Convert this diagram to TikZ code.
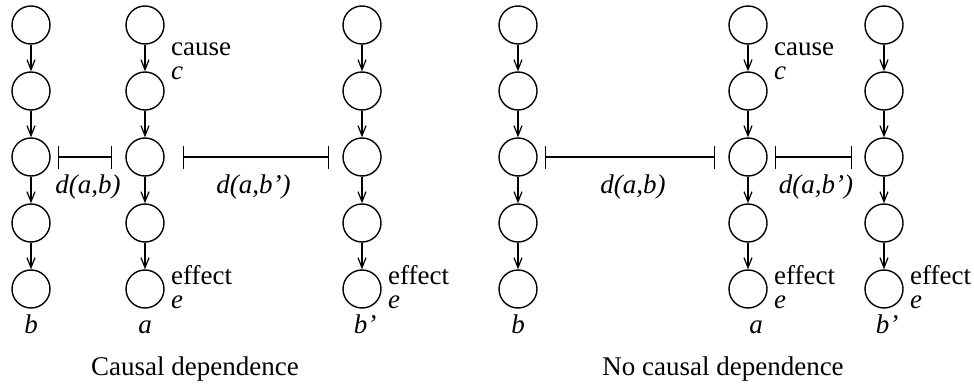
\documentclass[tikz,border=0pt]{standalone}
\usepackage{fontspec}
\setmainfont{Liberation Serif}
\usetikzlibrary{arrows.meta, positioning, calc}

\tikzset{
    event/.style={draw, circle, minimum size=19pt, inner sep=0pt, line width=0.7pt},
    flow/.style={-{Straight Barb[length=5pt, width=4pt]}, line width=0.6pt},
    dist/.style={{Bar[width=11.5pt]}-{Bar[width=11.5pt]}, line width=0.6pt},
    tag/.style={anchor=base west, align=left, inner sep=0pt},
    chain/.style={anchor=base, inner sep=0pt}
}

\begin{document}
\begin{tikzpicture}[x=0.5pt, y=-0.5pt, font=\fontsize{13.5}{12}\selectfont]
    \useasboundingbox (0,0) rectangle (974,385);

    % six chains of events (L = causal, R = no causal)
    \foreach \col/\xx in {Lb/31, La/145, Lp/362, Rb/518, Ra/748, Rp/884} {
        \foreach \row/\yy in {1/25, 2/91, 3/157, 4/223, 5/289}
            \node[event] (\col\row) at (\xx,\yy) {};
        \foreach \row/\nxt in {1/2, 2/3, 3/4, 4/5}
            \draw[flow] (\col\row) -- (\col\nxt);
    }

    % distances
    \draw[dist, shorten <=3.5pt, shorten >=6.5pt] (Lb3) -- (La3)
      node[midway, anchor=base, yshift=-18pt]{\textit{d(a,b)}};
    \draw[dist, shorten <=9pt, shorten >=6.5pt] (La3) -- (Lp3)
      node[midway, anchor=base, yshift=-18pt]{\textit{d(a,b’)}};
    \draw[dist, shorten <=3.5pt, shorten >=6.5pt] (Rb3) -- (Ra3)
      node[midway, anchor=base, yshift=-18pt]{\textit{d(a,b)}};
    \draw[dist, shorten <=3.5pt, shorten >=6pt] (Ra3) -- (Rp3)
      node[midway, anchor=base, yshift=-18pt]{\textit{d(a,b’)}};

    % cause / effect (base = last line)
    \node[tag, xshift=3pt, yshift=5.5pt] (Lcause) at (La2.east) {cause\\\textit{c}};
    \node[tag, xshift=3pt, yshift=-9.5pt] (Leffa) at (La5.east) {effect\\\textit{e}};
    \node[tag, xshift=3pt, yshift=-9.5pt] (Leffp) at (Lp5.east) {effect\\\textit{e}};
    \node[tag, xshift=3pt, yshift=5.5pt] (Rcause) at (Ra2.east) {cause\\\textit{c}};
    \node[tag, xshift=3pt, yshift=-9.5pt] (Reffa) at (Ra5.east) {effect\\\textit{e}};
    \node[tag, xshift=3pt, yshift=-9.5pt] (Reffp) at (Rp5.east) {effect\\\textit{e}};

    % chain names
    \node[chain, yshift=-22pt] (Lbname) at (Lb5) {\textit{b}};
    \node[chain, yshift=-22pt] (Laname) at (La5) {\textit{a}};
    \node[chain, yshift=-22pt, xshift=1.5pt] (Lpname) at (Lp5) {\textit{b’}};
    \node[chain, yshift=-22pt] (Rbname) at (Rb5) {\textit{b}};
    \node[chain, yshift=-22pt, xshift=4pt] (Raname) at (Ra5) {\textit{a}};
    \node[chain, yshift=-22pt, xshift=1.5pt] (Rpname) at (Rp5) {\textit{b’}};

    \node[chain] (Ltitle) at (195,375) {Causal dependence};
    \node[chain] (Rtitle) at (723,375) {No causal dependence};
\end{tikzpicture}
\end{document}
